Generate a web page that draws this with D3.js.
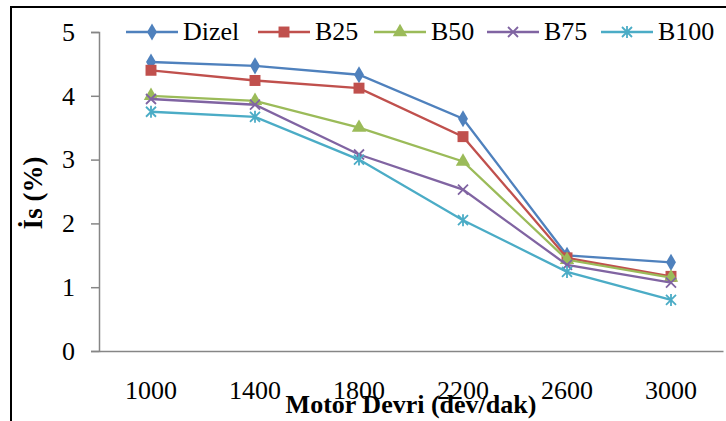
<!DOCTYPE html>
<html>
<head>
<meta charset="utf-8">
<script src="https://cdn.jsdelivr.net/npm/d3@7"></script>
<style>
  body { margin: 0; background: #fff; }
  svg { display: block; font-family: "Liberation Serif", "Times New Roman", serif; }
</style>
</head>
<body>
<div id="chart"></div>
<script>
// data
var categories = ["1000", "1400", "1800", "2200", "2600", "3000"];
var seriesNames = ["Dizel", "B25", "B50", "B75", "B100"];
var dizel = [4.53, 4.47, 4.33, 3.64, 1.50, 1.39];
var b25   = [4.40, 4.24, 4.12, 3.36, 1.46, 1.17];
var b50   = [4.00, 3.92, 3.50, 2.97, 1.43, 1.15];
var b75   = [3.95, 3.86, 3.08, 2.53, 1.35, 1.07];
var b100  = [3.75, 3.67, 3.00, 2.05, 1.24, 0.80];
var yTicks = [0, 1, 2, 3, 4, 5];

var colors = ["#4F81BD", "#C0504D", "#9BBB59", "#8064A2", "#4BACC6"];
var markers = ["diamond", "square", "triangle", "cross", "star"];
var allValues = [dizel, b25, b50, b75, b100];

var width = 726, height = 421;
var plot = {left: 99, right: 723, top: 32, bottom: 351};

var svg = d3.select("#chart").append("svg")
    .attr("width", width)
    .attr("height", height);

// outer frame (right and bottom edges fall outside the picture)
svg.append("rect")
    .attr("x", 11).attr("y", 7)
    .attr("width", 740).attr("height", 440)
    .attr("fill", "none")
    .attr("stroke", "#000")
    .attr("stroke-width", 2);

var x = d3.scaleBand().domain(categories).range([plot.left, plot.right]);
var y = d3.scaleLinear().domain([0, 5]).range([plot.bottom, plot.top]);

// y axis
var yAxis = svg.append("g")
    .attr("transform", "translate(" + plot.left + ",0)")
    .call(d3.axisLeft(y).tickValues(yTicks).tickSize(8).tickPadding(16).tickFormat(d3.format("d")));
yAxis.select(".domain").attr("stroke", "#868686").attr("stroke-width", 1.5);
yAxis.selectAll(".tick line").attr("stroke", "#868686").attr("stroke-width", 1.5);
yAxis.selectAll(".tick text").attr("font-size", "26px").attr("fill", "#000")
    .attr("font-family", "Liberation Serif, serif");

// x axis
var xAxis = svg.append("g")
    .attr("transform", "translate(0," + plot.bottom + ")")
    .call(d3.axisBottom(x).tickSize(0).tickPadding(30).tickSizeOuter(0));
xAxis.select(".domain").attr("stroke", "#868686").attr("stroke-width", 1.5);
xAxis.selectAll(".tick text").attr("font-size", "26px").attr("fill", "#000")
    .attr("font-family", "Liberation Serif, serif");

function markerPath(type) {
  if (type === "diamond") return d3.symbol(d3.symbolDiamond, 85)();
  if (type === "square") return d3.symbol(d3.symbolSquare, 120)();
  if (type === "triangle") return d3.symbol(d3.symbolTriangle, 90)();
  if (type === "cross") return "M-5,-5L5,5M-5,5L5,-5";
  return "M-5,-5L5,5M-5,5L5,-5M0,-6L0,6";
}

function drawMarker(g, type, color) {
  var p = g.append("path").attr("d", markerPath(type));
  if (type === "cross" || type === "star") {
    p.attr("fill", "none").attr("stroke", color).attr("stroke-width", 1.8);
  } else {
    p.attr("fill", color);
  }
}

var line = d3.line()
    .x(function(d, i) { return x(categories[i]) + x.bandwidth() / 2; })
    .y(function(d) { return y(d); });

allValues.forEach(function(vals, s) {
  var g = svg.append("g");
  g.append("path")
      .datum(vals)
      .attr("fill", "none")
      .attr("stroke", colors[s])
      .attr("stroke-width", 2.3)
      .attr("d", line);
  vals.forEach(function(v, i) {
    var m = g.append("g")
        .attr("transform", "translate(" + (x(categories[i]) + x.bandwidth() / 2) + "," + y(v) + ")");
    drawMarker(m, markers[s], colors[s]);
  });
});

// legend
var legendX = [126, 258, 374, 487, 601];
seriesNames.forEach(function(name, s) {
  var lg = svg.append("g").attr("transform", "translate(" + legendX[s] + ",32)");
  lg.append("line")
      .attr("x1", 0).attr("x2", 52)
      .attr("stroke", colors[s]).attr("stroke-width", 2.3);
  drawMarker(lg.append("g").attr("transform", "translate(26,0)"), markers[s], colors[s]);
  lg.append("text")
      .attr("x", 57).attr("y", 8)
      .attr("font-size", "26px")
      .text(name);
});

// axis titles
svg.append("text")
    .attr("transform", "translate(42,193) rotate(-90)")
    .attr("text-anchor", "middle")
    .attr("font-size", "27px")
    .attr("font-weight", "bold")
    .text("İs (%)");

svg.append("text")
    .attr("x", 411).attr("y", 413)
    .attr("text-anchor", "middle")
    .attr("font-size", "26px")
    .attr("font-weight", "bold")
    .text("Motor Devri (dev/dak)");
</script>
</body>
</html>
